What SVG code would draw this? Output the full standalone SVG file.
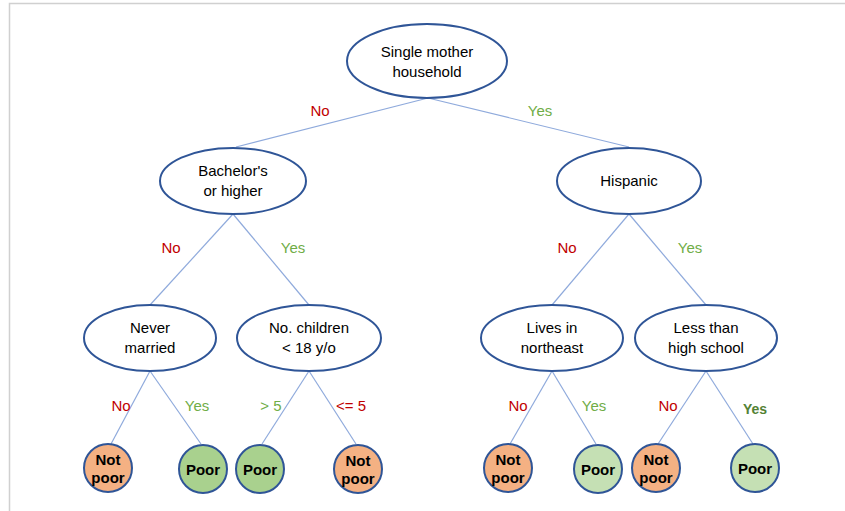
<svg xmlns="http://www.w3.org/2000/svg" width="845" height="511" viewBox="0 0 845 511">
<style>
.n{fill:#fff;stroke:#2f5597;stroke-width:2}
.t{font-family:"Liberation Sans",Arial,sans-serif;font-size:15px;fill:#000;text-anchor:middle}
.lf{font-family:"Liberation Sans",Arial,sans-serif;font-size:15px;font-weight:bold;fill:#000;text-anchor:middle}
.np{fill:#f4b183;stroke:#2f5597;stroke-width:2}
.pd{fill:#a9d18e;stroke:#2f5597;stroke-width:2}
.pl{fill:#c5e0b4;stroke:#2f5597;stroke-width:2}
.e{stroke:#8faadc;stroke-width:1.2;fill:none}
.no{font-family:"Liberation Sans",Arial,sans-serif;font-size:15px;fill:#c00000;text-anchor:middle}
.yes{font-family:"Liberation Sans",Arial,sans-serif;font-size:15px;fill:#70ad47;text-anchor:middle}
</style>
<rect width="845" height="511" fill="#fff"/>
<path d="M9.5 511V3.5H845" fill="none" stroke="#d0d0d0" stroke-width="1.5"/>
<g id="connectors">
<path class="e" d="M428 98L236 147"/>
<path class="e" d="M428 98L629 147"/>
<path class="e" d="M233 214L150 305"/>
<path class="e" d="M233 214L309 305"/>
<path class="e" d="M629 214L552 305"/>
<path class="e" d="M629 214L706 305"/>
<path class="e" d="M150 371L111 444"/>
<path class="e" d="M150 371L201 444"/>
<path class="e" d="M309 371L262 444"/>
<path class="e" d="M309 371L356 444"/>
<path class="e" d="M552 371L510 444"/>
<path class="e" d="M552 371L596 444"/>
<path class="e" d="M706 371L658 444"/>
<path class="e" d="M706 371L753 444"/>
</g>
<g id="edge-labels">
<text class="no" x="320" y="116">No</text>
<text class="yes" x="540" y="116">Yes</text>
<text class="no" x="171" y="253">No</text>
<text class="yes" x="293" y="253">Yes</text>
<text class="no" x="567" y="253">No</text>
<text class="yes" x="690" y="253">Yes</text>
<text class="no" x="121" y="411">No</text>
<text class="yes" x="197" y="411">Yes</text>
<text class="yes" x="271" y="411">&gt; 5</text>
<text class="no" x="351" y="411">&lt;= 5</text>
<text class="no" x="518" y="411">No</text>
<text class="yes" x="594" y="411">Yes</text>
<text class="no" x="668" y="411">No</text>
<text class="yes" x="755" y="414" style="fill:#548235;font-weight:bold;font-size:14px">Yes</text>
</g>
<g id="root"><ellipse class="n" cx="427" cy="61" rx="80" ry="37"/><text class="t" x="427" y="57">Single mother</text><text class="t" x="427" y="77">household</text></g>
<g id="bachelors"><ellipse class="n" cx="233" cy="181" rx="73" ry="33"/><text class="t" x="233" y="176">Bachelor's</text><text class="t" x="233" y="196">or higher</text></g>
<g id="hispanic"><ellipse class="n" cx="629" cy="181" rx="72" ry="33"/><text class="t" x="629" y="186">Hispanic</text></g>
<g id="never-married"><ellipse class="n" cx="150" cy="338" rx="66" ry="33"/><text class="t" x="150" y="333">Never</text><text class="t" x="150" y="353">married</text></g>
<g id="children"><ellipse class="n" cx="309" cy="338" rx="72" ry="33"/><text class="t" x="309" y="333">No. children</text><text class="t" x="309" y="353">&lt; 18 y/o</text></g>
<g id="northeast"><ellipse class="n" cx="552" cy="338" rx="71" ry="33"/><text class="t" x="552" y="333">Lives in</text><text class="t" x="552" y="353">northeast</text></g>
<g id="highschool"><ellipse class="n" cx="706" cy="338" rx="71" ry="33"/><text class="t" x="706" y="333">Less than</text><text class="t" x="706" y="353">high school</text></g>
<g id="leaf1"><circle class="np" cx="108" cy="468" r="24"/><text class="lf" x="108" y="465">Not</text><text class="lf" x="108" y="483">poor</text></g>
<g id="leaf2"><circle class="pd" cx="203" cy="469" r="24"/><text class="lf" x="203" y="475">Poor</text></g>
<g id="leaf3"><circle class="pd" cx="260" cy="469" r="24"/><text class="lf" x="260" y="475">Poor</text></g>
<g id="leaf4"><circle class="np" cx="358" cy="469" r="24"/><text class="lf" x="358" y="466">Not</text><text class="lf" x="358" y="484">poor</text></g>
<g id="leaf5"><circle class="np" cx="508" cy="468" r="24"/><text class="lf" x="508" y="465">Not</text><text class="lf" x="508" y="483">poor</text></g>
<g id="leaf6"><circle class="pl" cx="598" cy="469" r="24"/><text class="lf" x="598" y="475">Poor</text></g>
<g id="leaf7"><circle class="np" cx="656" cy="468" r="24"/><text class="lf" x="656" y="465">Not</text><text class="lf" x="656" y="483">poor</text></g>
<g id="leaf8"><circle class="pl" cx="755" cy="468" r="24"/><text class="lf" x="755" y="474">Poor</text></g>
</svg>
